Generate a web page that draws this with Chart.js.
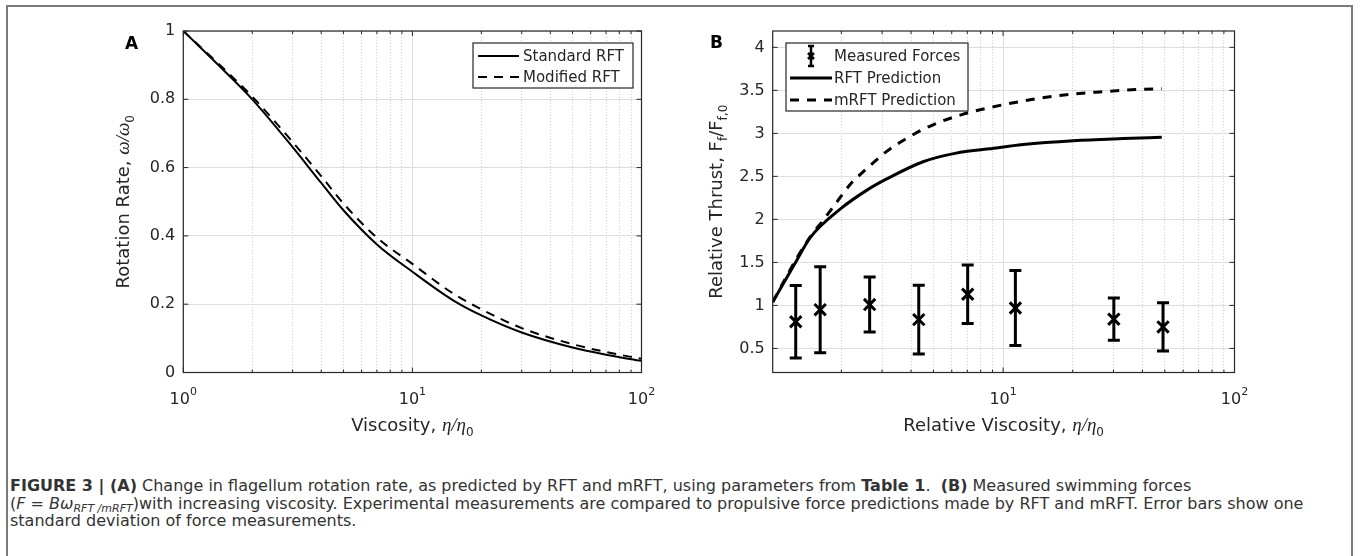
<!DOCTYPE html>
<html>
<head>
<meta charset="utf-8">
<script src="https://cdn.jsdelivr.net/npm/chart.js@4.4.1/dist/chart.umd.min.js"></script>
<style>
  body { margin: 0; background: #fff; width: 1360px; height: 556px; overflow: hidden; position: relative; font-family: "DejaVu Sans", sans-serif; }
  #frame { position: absolute; left: 6px; top: 5px; width: 1347px; height: 620px; border: 2px solid #7a7a7a; box-sizing: border-box; }
  #cA { position: absolute; left: 0; top: 0; }
  #cB { position: absolute; left: 690px; top: 0; }
  #caption { position: absolute; left: 10px; top: 477px; font-size: 16px; line-height: 17.5px; color: #333; white-space: nowrap; }
  #caption sub { font-size: 11px; line-height: 0; vertical-align: -3px; }
</style>
</head>
<body>
<div id="frame"></div>
<canvas id="cA" width="680" height="460"></canvas>
<canvas id="cB" width="670" height="460"></canvas>
<div id="caption"><b>FIGURE 3 | (A)</b> Change in flagellum rotation rate, as predicted by RFT and mRFT, using parameters from <b>Table 1</b>.&nbsp; <b>(B)</b> Measured swimming forces<br>(<i>F</i> = <i>Bω</i><sub><i>RFT /mRFT</i></sub>)with increasing viscosity. Experimental measurements are compared to propulsive force predictions made by RFT and mRFT. Error bars show one<br>standard deviation of force measurements.</div>
<script>
// panel A: rotation rate vs viscosity
var viscosityA = [1, 1.5, 2, 3, 4, 5, 7, 10, 15, 20, 30, 50, 70, 100]
var standardRFT = [1.0, 0.885, 0.80, 0.66, 0.555, 0.475, 0.375, 0.295, 0.212, 0.167, 0.117, 0.073, 0.052, 0.034]
var modifiedRFT = [1.0, 0.89, 0.808, 0.675, 0.575, 0.495, 0.395, 0.318, 0.232, 0.185, 0.13, 0.083, 0.06, 0.04]

// panel B: relative thrust vs relative viscosity
var rftViscosity = [1.01, 1.28, 1.47, 2.0, 2.58, 3.14, 4.51, 6.27, 8.71, 12.2, 20.1, 33.0, 48.5]
var rftThrust = [1.04, 1.52, 1.79, 2.13, 2.34, 2.47, 2.67, 2.77, 2.82, 2.87, 2.915, 2.94, 2.955]
var mrftViscosity = [1.01, 1.29, 1.47, 1.67, 1.91, 2.22, 2.41, 3.14, 3.96, 4.98, 6.68, 8.43, 13.1, 18.8, 27.1, 37.8, 48.5]
var mrftThrust = [1.04, 1.56, 1.80, 1.99, 2.20, 2.43, 2.52, 2.79, 2.965, 3.10, 3.22, 3.29, 3.39, 3.45, 3.485, 3.51, 3.52]
var forceViscosity = [1.27, 1.62, 2.65, 4.32, 7.03, 11.3, 30.1, 49.1]
var forceMean = [0.81, 0.95, 1.01, 0.835, 1.13, 0.97, 0.84, 0.75]
var forceStd = [0.42, 0.50, 0.32, 0.40, 0.34, 0.435, 0.245, 0.28]

// ticks
var xTicksA = [1, 2, 3, 4, 5, 6, 7, 8, 9, 10, 20, 30, 40, 50, 60, 70, 80, 90, 100]
var xTicksB = [2, 3, 4, 5, 6, 7, 8, 9, 10, 20, 30, 40, 50, 60, 70, 80, 90, 100]
var decadeLabelsA = [[1, "0"], [10, "1"], [100, "2"]]
var decadeLabelsB = [[10, "1"], [100, "2"]]
var yTicksA = [0, 0.2, 0.4, 0.6, 0.8, 1]
var yTicksB = [0.5, 1, 1.5, 2, 2.5, 3, 3.5, 4]

var INK = "#262626"
var FONT = "\"DejaVu Sans\""

function pts(xs, ys) {
  return xs.map(function(x, i) { return { x: x, y: ys[i] } })
}

function isDecade(v) {
  return v === 1 || v === 10 || v === 100
}

function drawParts(ctx, parts, x, y, center, rotate) {
  ctx.save()
  ctx.translate(x, y)
  if (rotate) ctx.rotate(-Math.PI / 2)
  var total = 0
  parts.forEach(function(p) { ctx.font = p[1]; total += ctx.measureText(p[0]).width })
  var cx = center ? -total / 2 : 0
  ctx.textAlign = "left"
  ctx.textBaseline = "alphabetic"
  ctx.fillStyle = INK
  parts.forEach(function(p) {
    ctx.font = p[1]
    ctx.fillText(p[0], cx, p[2] || 0)
    cx += ctx.measureText(p[0]).width
  })
  ctx.restore()
}

// box, inward ticks, decade labels, titles, legend
var decor = {
  id: "decor",
  afterDraw: function(chart, args, o) {
    var ctx = chart.ctx
    var a = chart.chartArea
    var xs = chart.scales.x
    var ys = chart.scales.y
    ctx.save()
    ctx.strokeStyle = INK
    ctx.lineWidth = 1.2
    ctx.strokeRect(a.left, a.top, a.right - a.left, a.bottom - a.top)
    ctx.lineWidth = 1
    ctx.beginPath()
    xs.ticks.forEach(function(t) {
      var px = xs.getPixelForValue(t.value)
      var len = isDecade(t.value) ? 5 : 3
      ctx.moveTo(px, a.bottom); ctx.lineTo(px, a.bottom - len)
      ctx.moveTo(px, a.top); ctx.lineTo(px, a.top + len)
    })
    ys.ticks.forEach(function(t) {
      var py = ys.getPixelForValue(t.value)
      ctx.moveTo(a.left, py); ctx.lineTo(a.left + 5, py)
      ctx.moveTo(a.right, py); ctx.lineTo(a.right - 5, py)
    })
    ctx.stroke()

    // decade labels 10^n
    ctx.fillStyle = INK
    o.decades.forEach(function(d) {
      var px = xs.getPixelForValue(d[0])
      ctx.font = "16px " + FONT
      var w1 = ctx.measureText("10").width
      ctx.font = "11px " + FONT
      var w2 = ctx.measureText(d[1]).width
      var left = px - (w1 + w2) / 2
      ctx.font = "16px " + FONT
      ctx.fillText("10", left, 404)
      ctx.font = "11px " + FONT
      ctx.fillText(d[1], left + w1, 395)
    })

    // titles and panel letter
    drawParts(ctx, o.xTitle, (a.left + a.right) / 2, 431, true, false)
    drawParts(ctx, o.yTitle, o.yTitleX, (a.top + a.bottom) / 2, true, true)
    ctx.font = "bold 17px " + FONT
    ctx.fillStyle = "#000"
    ctx.fillText(o.letter[0], o.letter[1], o.letter[2])

    // legend
    var b = o.legendBox
    ctx.fillStyle = "#fff"
    ctx.fillRect(b[0], b[1], b[2] - b[0], b[3] - b[1])
    ctx.strokeStyle = INK
    ctx.lineWidth = 1.2
    ctx.strokeRect(b[0], b[1], b[2] - b[0], b[3] - b[1])
    chart.data.datasets.forEach(function(ds, i) {
      var y = o.legendRows[i]
      var s0 = o.sample[0], s1 = o.sample[1]
      ctx.strokeStyle = "#000"
      ctx.fillStyle = "#000"
      if (ds.showLine === false) {
        var cx = (s0 + s1) / 2
        ctx.lineWidth = 2.5
        ctx.setLineDash([])
        ctx.beginPath()
        ctx.moveTo(cx, y - 10); ctx.lineTo(cx, y + 10)
        ctx.moveTo(cx - 3, y - 10); ctx.lineTo(cx + 3, y - 10)
        ctx.moveTo(cx - 3, y + 10); ctx.lineTo(cx + 3, y + 10)
        ctx.moveTo(cx - 3, y - 3); ctx.lineTo(cx + 3, y + 3)
        ctx.moveTo(cx - 3, y + 3); ctx.lineTo(cx + 3, y - 3)
        ctx.stroke()
      } else {
        ctx.lineWidth = ds.borderWidth
        ctx.setLineDash(ds.borderDash || [])
        ctx.beginPath()
        ctx.moveTo(s0, y); ctx.lineTo(s1, y)
        ctx.stroke()
        ctx.setLineDash([])
      }
      ctx.fillStyle = INK
      ctx.font = "15px " + FONT
      ctx.textBaseline = "middle"
      ctx.fillText(ds.label, o.textX, y + 1)
      ctx.textBaseline = "alphabetic"
    })
    ctx.restore()
  }
}

// error bars for the measured forces (dataset 0 of panel B)
var errorBars = {
  id: "errorBars",
  afterDatasetsDraw: function(chart) {
    var ctx = chart.ctx
    var meta = chart.getDatasetMeta(0)
    var ys = chart.scales.y
    ctx.save()
    ctx.strokeStyle = "#000"
    ctx.lineWidth = 3
    meta.data.forEach(function(p, i) {
      var top = ys.getPixelForValue(forceMean[i] + forceStd[i])
      var bot = ys.getPixelForValue(forceMean[i] - forceStd[i])
      ctx.beginPath()
      ctx.moveTo(p.x, top); ctx.lineTo(p.x, bot)
      ctx.moveTo(p.x - 6, top); ctx.lineTo(p.x + 6, top)
      ctx.moveTo(p.x - 6, bot); ctx.lineTo(p.x + 6, bot)
      ctx.stroke()
    })
    ctx.restore()
  }
}

function xScale(min, ticks) {
  return {
    type: "logarithmic",
    min: min,
    max: 100,
    afterBuildTicks: function(s) { s.ticks = ticks.map(function(v) { return { value: v } }) },
    afterFit: function(s) { s.height = 460 - 372.5 },
    ticks: { display: false },
    grid: {
      color: function(c) { return isDecade(c.tick.value) ? "#dedede" : "#cdcdcd" },
      lineWidth: 1,
      drawTicks: false
    },
    border: {
      display: false,
      dash: function(c) { return isDecade(c.tick.value) ? [] : [1, 2] }
    }
  }
}

function yScale(min, max, ticks, width) {
  return {
    min: min,
    max: max,
    afterBuildTicks: function(s) { s.ticks = ticks.map(function(v) { return { value: v } }) },
    afterFit: function(s) { s.width = width },
    ticks: {
      padding: 8,
      color: INK,
      font: { family: "DejaVu Sans", size: 16 },
      callback: function(v) { return String(+v.toFixed(2)) }
    },
    grid: { color: "#dedede", lineWidth: 1, drawTicks: false },
    border: { display: false }
  }
}

var chartA = new Chart(document.getElementById("cA"), {
  type: "line",
  data: {
    datasets: [{
      label: "Standard RFT",
      data: pts(viscosityA, standardRFT),
      borderColor: "#000",
      borderWidth: 2,
      pointRadius: 0,
      cubicInterpolationMode: "monotone",
      fill: false
    }, {
      label: "Modified RFT",
      data: pts(viscosityA, modifiedRFT),
      borderColor: "#000",
      borderWidth: 2,
      borderDash: [9, 7],
      pointRadius: 0,
      cubicInterpolationMode: "monotone",
      fill: false
    }]
  },
  options: {
    responsive: false,
    animation: false,
    layout: { padding: { left: 0, top: 31, right: 680 - 641.5, bottom: 0 } },
    scales: {
      x: xScale(1, xTicksA),
      y: yScale(0, 1, yTicksA, 183.3)
    },
    plugins: {
      legend: { display: false },
      tooltip: { enabled: false },
      decor: {
        decades: decadeLabelsA,
        xTitle: [["Viscosity, ", "18px " + FONT], ["η/η", "italic 19px \"Liberation Serif\""], ["0", "12px " + FONT, 5]],
        yTitle: [["Rotation Rate, ", "18px " + FONT], ["ω/ω", "italic 19px \"Liberation Serif\""], ["0", "12px " + FONT, 5]],
        yTitleX: 129,
        letter: ["A", 125, 49],
        legendBox: [473, 43, 633, 88],
        legendRows: [56, 77],
        sample: [478, 519],
        textX: 523
      }
    }
  },
  plugins: [decor]
})

var chartB = new Chart(document.getElementById("cB"), {
  type: "line",
  data: {
    datasets: [{
      label: "Measured Forces",
      data: pts(forceViscosity, forceMean),
      showLine: false,
      pointStyle: "crossRot",
      pointRadius: 8,
      pointBorderWidth: 3,
      borderColor: "#000",
      backgroundColor: "#000"
    }, {
      label: "RFT Prediction",
      data: pts(rftViscosity, rftThrust),
      borderColor: "#000",
      borderWidth: 3,
      pointRadius: 0,
      cubicInterpolationMode: "monotone",
      fill: false
    }, {
      label: "mRFT Prediction",
      data: pts(mrftViscosity, mrftThrust),
      borderColor: "#000",
      borderWidth: 3,
      borderDash: [9, 8],
      pointRadius: 0,
      cubicInterpolationMode: "monotone",
      fill: false
    }]
  },
  options: {
    responsive: false,
    animation: false,
    layout: { padding: { left: 0, top: 31, right: 670 - 544.5, bottom: 0 } },
    scales: {
      x: xScale(1.01, xTicksB),
      y: yScale(0.22, 4.19, yTicksB, 82.7)
    },
    plugins: {
      legend: { display: false },
      tooltip: { enabled: false },
      decor: {
        decades: decadeLabelsB,
        xTitle: [["Relative Viscosity, ", "18px " + FONT], ["η/η", "italic 19px \"Liberation Serif\""], ["0", "12px " + FONT, 5]],
        yTitle: [["Relative Thrust, F", "18px " + FONT], ["f", "12px " + FONT, 5], ["/F", "18px " + FONT], ["f,0", "12px " + FONT, 5]],
        yTitleX: 32,
        letter: ["B", 20, 48],
        legendBox: [96, 43, 278, 111],
        legendRows: [56, 78, 100],
        sample: [100, 142],
        textX: 144
      }
    }
  },
  plugins: [errorBars, decor]
})
</script>
</body>
</html>
